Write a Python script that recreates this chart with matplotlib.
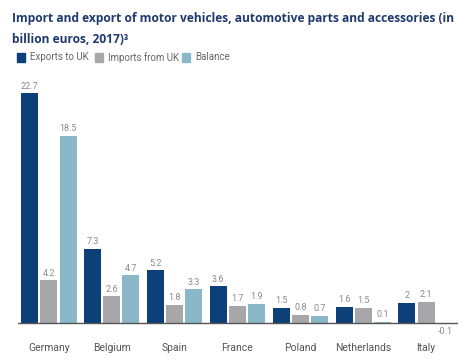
import numpy as np
import matplotlib.pyplot as plt
from matplotlib.patches import Rectangle

countries = ['Germany', 'Belgium', 'Spain', 'France', 'Poland', 'Netherlands', 'Italy']
exports = [22.7, 7.3, 5.2, 3.6, 1.5, 1.6, 2.0]
imports = [4.2, 2.6, 1.8, 1.7, 0.8, 1.5, 2.1]
balance = [18.5, 4.7, 3.3, 1.9, 0.7, 0.1, -0.1]
series = ['Exports to UK', 'Imports from UK', 'Balance']
colors = ['#0d3f78', '#a7a7a9', '#8bb8c9']

plt.rcParams['font.family'] = ['Roboto', 'DejaVu Sans']
fig = plt.figure(figsize=(4.74, 3.6), dpi=100)
ax = fig.add_axes([17.5/474, 20/360, 440/474, 255/360])

x = np.arange(len(countries))
w = 0.27
off = 0.305
for vals, c, d in zip([exports, imports, balance], colors, [-off, 0, off]):
    bars = ax.bar(x + d, vals, w, color=c)
    for xi, v in zip(x + d, vals):
        lab = ('%g' % v)
        if v >= 0:
            ax.text(xi, v + 0.25, lab, ha='center', va='bottom', fontsize=6.5, color='#8a8a8a')
        else:
            ax.text(xi, v - 0.35, lab, ha='center', va='top', fontsize=6.5, color='#8a8a8a')

ax.axhline(0, color='#555555', lw=1)
ax.set_xlim(-0.5, 6.5)
ax.set_ylim(-1.7, 23.5)
ax.set_xticks(x)
ax.set_xticklabels(countries, fontsize=7.5, color='#555555')
ax.tick_params(axis='x', length=0, pad=2)
ax.set_yticks([])
for s in ax.spines.values():
    s.set_visible(False)

fig.text(12/474, 1 - 18.5/360, 'Import and export of motor vehicles, automotive parts and accessories (in',
         fontsize=8.65, fontweight='bold', color='#1f3a6e', family='Open Sans', va='center')
fig.text(12/474, 1 - 39.5/360, 'billion euros, 2017)³',
         fontsize=8.65, fontweight='bold', color='#1f3a6e', family='Open Sans', va='center')

lx = [17, 95, 182]
for px, name, c in zip(lx, series, colors):
    fig.patches.append(Rectangle((px/474, 1 - 61.5/360), 8/474, 8/360, color=c, transform=fig.transFigure))
    fig.text((px + 13)/474, 1 - 57.5/360, name, fontsize=7, color='#666666', va='center')

fig.savefig('out.png', dpi=100)
